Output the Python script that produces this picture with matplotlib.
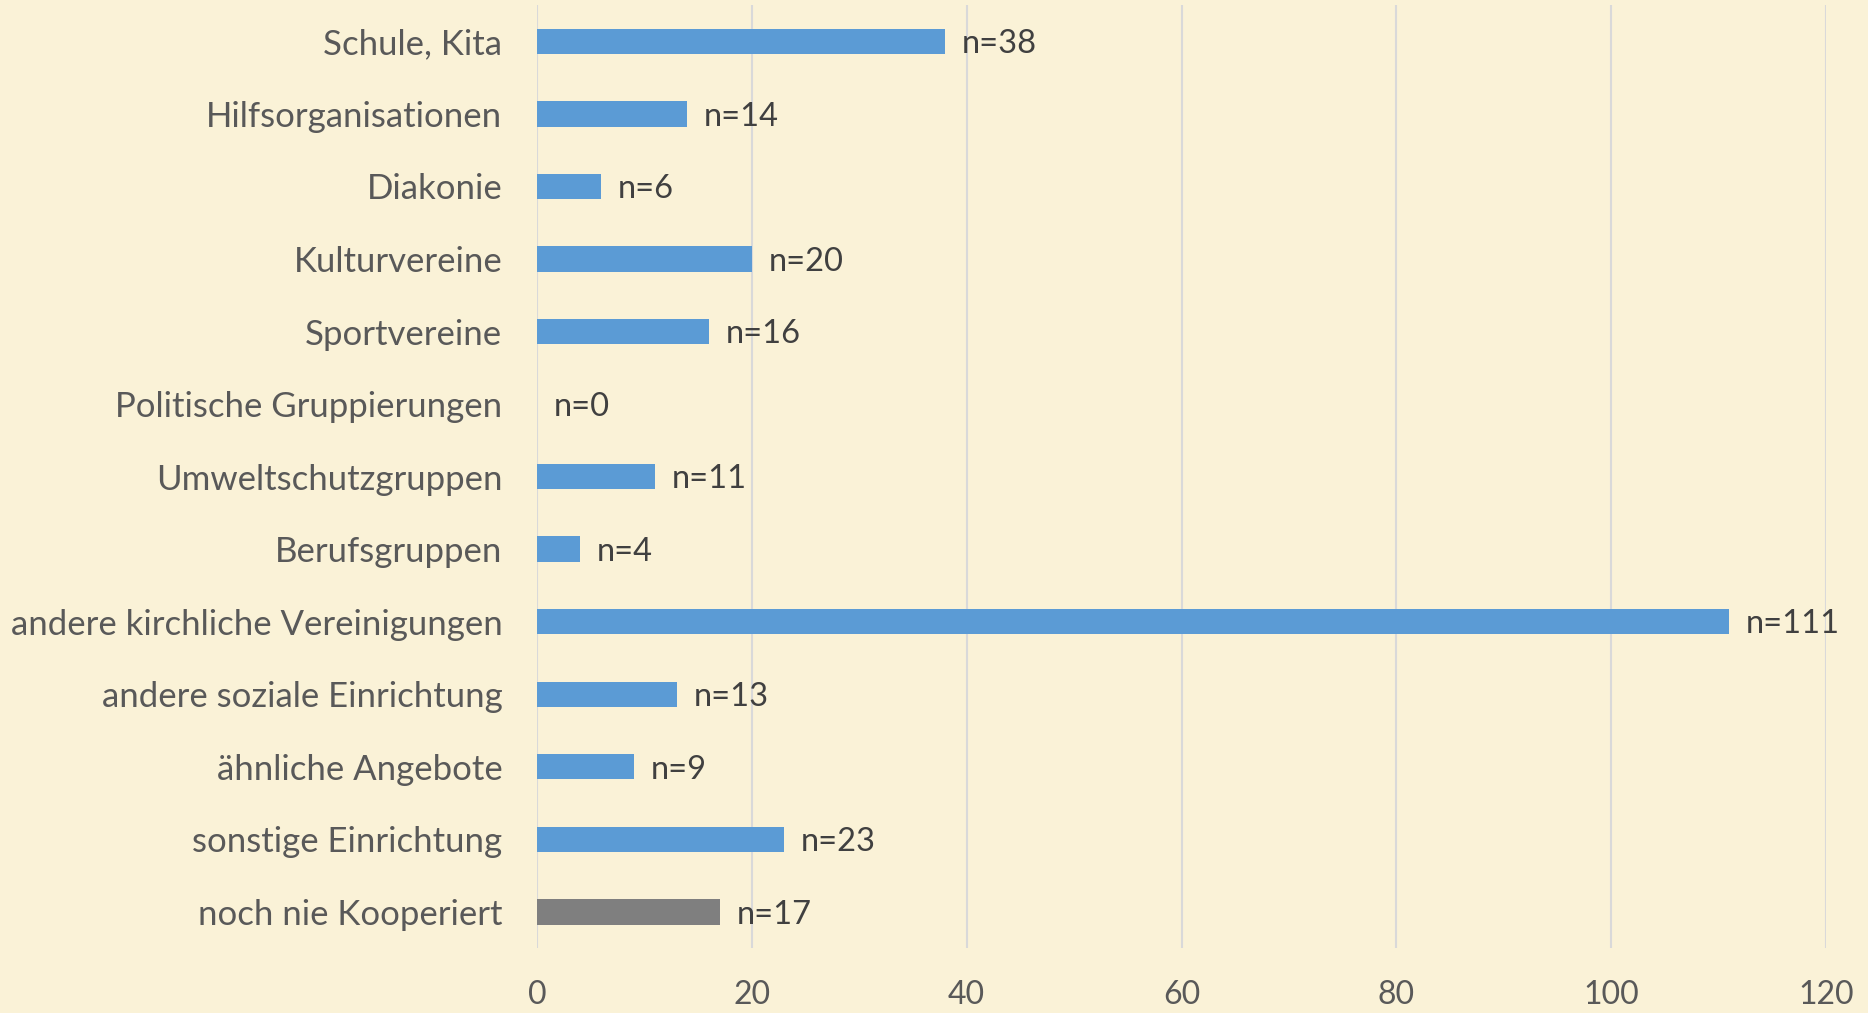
import numpy as np
from matplotlib import pyplot as plt

categories = ['Schule, Kita', 'Hilfsorganisationen', 'Diakonie', 'Kulturvereine',
              'Sportvereine', 'Politische Gruppierungen', 'Umweltschutzgruppen',
              'Berufsgruppen', 'andere kirchliche Vereinigungen',
              'andere soziale Einrichtung', 'ähnliche Angebote',
              'sonstige Einrichtung', 'noch nie Kooperiert']
values = [38, 14, 6, 20, 16, 0, 11, 4, 111, 13, 9, 23, 17]
xticks = [0, 20, 40, 60, 80, 100, 120]

bg = '#FAF2D7'
plt.rcParams['font.family'] = ['Lato', 'DejaVu Sans']

fig = plt.figure(figsize=(18.68, 10.13), dpi=100, facecolor=bg)
ax = fig.add_axes([0.2875, 0.064, 0.69, 0.931], facecolor=bg)

y = np.arange(len(categories))
colors = ['#5B9BD5'] * (len(categories) - 1) + ['#7F7F7F']
ax.barh(y, values, height=0.35, color=colors, zorder=2)

for yi, v in zip(y, values):
    ax.annotate(f'n={v}', (v, yi), xytext=(12, -2), textcoords='offset points',
                va='center', ha='left', fontsize=23.5, color='#404040')

ax.set_ylim(len(categories) - 0.5, -0.5)
ax.set_xlim(0, 120)
ax.set_yticks(y)
ax.set_yticklabels(categories)
ax.set_xticks(xticks)
ax.tick_params(axis='y', length=0, labelsize=25, labelcolor='#595959', pad=25)
ax.tick_params(axis='x', length=0, labelsize=23, labelcolor='#595959', pad=23)
ax.grid(axis='x', color='#D9D9D9', linewidth=1.5, zorder=0)
for s in ax.spines.values():
    s.set_visible(False)

fig.savefig('out.png', dpi=100, facecolor=bg)
